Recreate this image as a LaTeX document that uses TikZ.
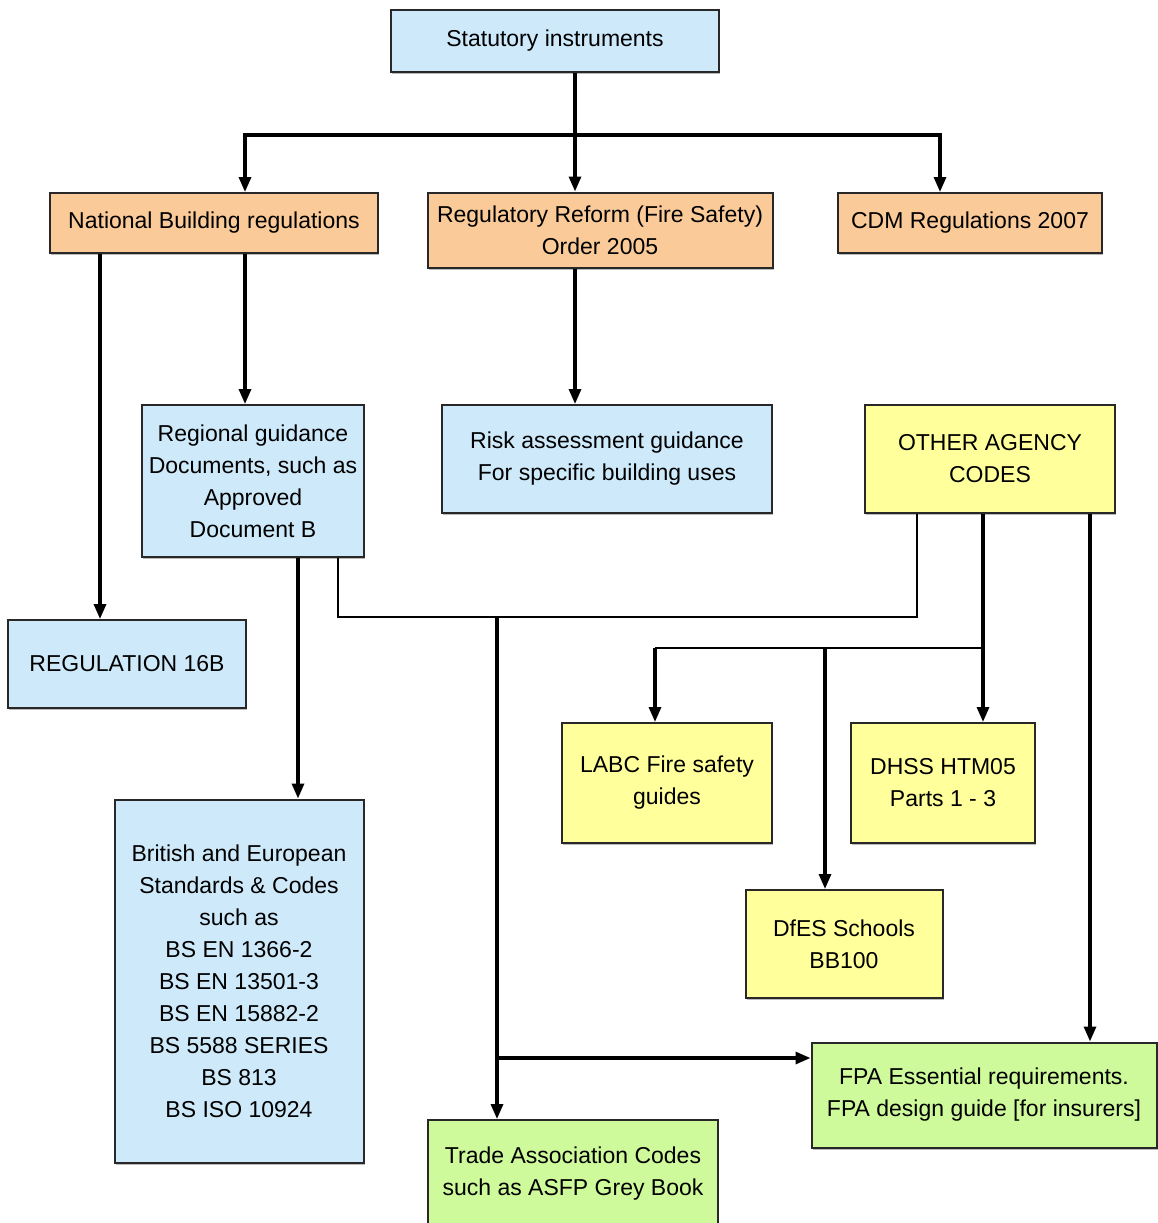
\documentclass[tikz,border=0pt]{standalone}
\usepackage{fontspec}
\setmainfont{Liberation Sans}
\usepackage{tikz}
\usetikzlibrary{arrows.meta,positioning,calc,shadows}

\definecolor{boxblue}{RGB}{206,234,250}
\definecolor{boxorange}{RGB}{250,202,152}
\definecolor{boxyellow}{RGB}{255,255,155}
\definecolor{boxgreen}{RGB}{206,250,155}
\definecolor{boxline}{RGB}{40,40,40}

\begin{document}
\begin{tikzpicture}[x=1pt,y=-1pt,
			box/.style={draw=boxline,line width=2pt,align=center,inner sep=0pt,
				drop shadow={shadow xshift=1pt,shadow yshift=-2pt,fill=black!45,opacity=0.6},
				font=\fontsize{23}{32}\selectfont},
			bluebox/.style={box,fill=boxblue},
			orangebox/.style={box,fill=boxorange},
			yellowbox/.style={box,fill=boxyellow},
			greenbox/.style={box,fill=boxgreen},
			arr/.style={line width=3.2pt,-{Triangle[length=15pt,width=12pt]}},
			thin/.style={line width=2.2pt}
		]
		\useasboundingbox (0,0) rectangle (1157,1223);

		% top level
		\node[bluebox,minimum width=328pt,minimum height=62pt] (stat) at (555,41) {Statutory instruments};

		% regulations
		\node[orangebox,minimum width=328pt,minimum height=60pt] (nbr) at (214,223) {National Building regulations};
		\node[orangebox,minimum width=345pt,minimum height=75pt] (rrfo) at (600,230) {Regulatory Reform (Fire Safety)\\Order 2005};
		\node[orangebox,minimum width=264pt,minimum height=60pt] (cdm) at (970,223) {CDM Regulations 2007};

		% guidance
		\node[bluebox,minimum width=222pt,minimum height=152pt] (rgd) at (253,481) {Regional guidance\\Documents, such as\\Approved\\Document B};
		\node[bluebox,minimum width=330pt,minimum height=108pt] (risk) at (607,459) {Risk assessment guidance\\For specific building uses};
		\node[yellowbox,minimum width=250pt,minimum height=108pt] (oac) at (990,459) {OTHER AGENCY\\CODES};
		\node[bluebox,minimum width=238pt,minimum height=88pt] (r16b) at (127,664) {REGULATION 16B};

		% agency codes
		\node[yellowbox,minimum width=210pt,minimum height=120pt] (labc) at (667,783) {LABC Fire safety\\guides};
		\node[yellowbox,minimum width=184pt,minimum height=120pt] (dhss) at (943,783) {DHSS HTM05\\Parts 1 - 3};
		\node[yellowbox,minimum width=197pt,minimum height=108pt] (dfes) at (844,944) {DfES Schools\\BB100};

		% standards
		\node[bluebox,minimum width=249pt,minimum height=363pt] (bsen) at (239,981) {British and European\\Standards \& Codes\\such as\\BS EN 1366-2\\BS EN 13501-3\\BS EN 15882-2\\BS 5588 SERIES\\BS 813\\BS ISO 10924};
		\node[greenbox,minimum width=345pt,minimum height=105pt] (fpa) at (984,1095) {FPA Essential requirements.\\FPA design guide [for insurers]};
		\node[greenbox,minimum width=290pt,minimum height=108pt] (tac) at (573,1174) {Trade Association Codes\\such as ASFP Grey Book};

		% lanes and levels of the connectors
		\coordinate (xa) at (100,0);
		\coordinate (xb) at (245,0);
		\coordinate (xc) at (575,0);
		\coordinate (xd) at (940,0);
		\coordinate (xe) at (298,0);
		\coordinate (xf) at (338,0);
		\coordinate (xg) at (917,0);
		\coordinate (xh) at (497,0);
		\coordinate (xi) at (983,0);
		\coordinate (xj) at (655,0);
		\coordinate (xk) at (825,0);
		\coordinate (xl) at (1090,0);
		\coordinate (ya) at (0,135);
		\coordinate (yb) at (0,617);
		\coordinate (yc) at (0,648);
		\coordinate (yd) at (0,1058);

		\draw[arr] (stat.south -| xc) -- (rrfo.north -| xc);
		\draw[arr] (xc |- ya) -- (xb |- ya) -- (nbr.north -| xb);
		\draw[arr] (xc |- ya) -- (xd |- ya) -- (cdm.north -| xd);

		\draw[arr] (nbr.south -| xa) -- (r16b.north -| xa);
		\draw[arr] (nbr.south -| xb) -- (rgd.north -| xb);
		\draw[arr] (rrfo.south -| xc) -- (risk.north -| xc);
		\draw[arr] (rgd.south -| xe) -- (bsen.north -| xe);

		\draw[thin] (rgd.south -| xf) -- (xf |- yb) -- (xg |- yb) -- (oac.south -| xg);
		\draw[arr] (xh |- yb) -- (tac.north -| xh);
		\draw[arr] (xh |- yd) -- (fpa.west |- yd);

		\draw[arr] (oac.south -| xi) -- (dhss.north -| xi);
		\draw[thin] (xi |- yc) -- (xj |- yc);
		\draw[arr] (xj |- yc) -- (labc.north -| xj);
		\draw[arr] (xk |- yc) -- (dfes.north -| xk);
		\draw[arr] (oac.south -| xl) -- (fpa.north -| xl);

	\end{tikzpicture}
\end{document}
